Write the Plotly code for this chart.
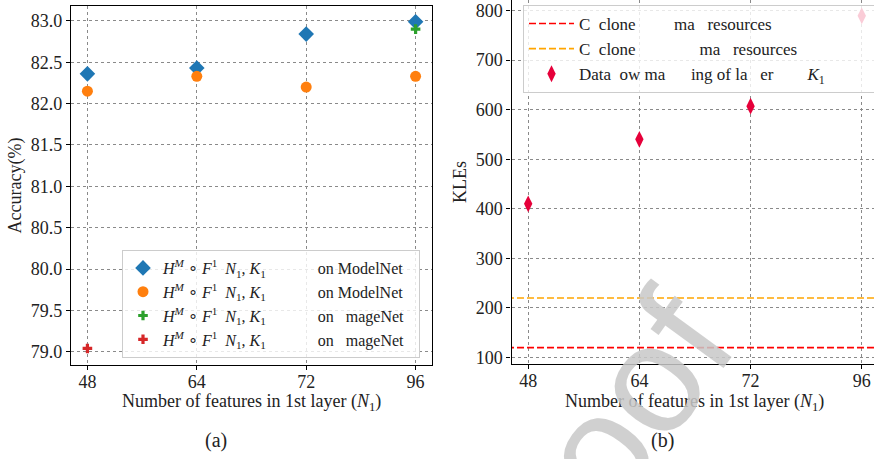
import plotly.graph_objects as go

# ---------------- data ----------------
n_features = ["48", "64", "72", "96"]

acc_blue = [82.36, 82.43, 82.84, 82.99]      # diamonds, ModelNet
acc_orange = [82.15, 82.33, 82.20, 82.33]    # circles, ModelNet
acc_green_x = ["96"]
acc_green = [82.90]                          # plus, ImageNet
acc_red_x = ["48"]
acc_red = [79.04]                            # plus, ImageNet

kles_points = [410, 540, 607, 789]
kles_limit_low = 120
kles_limit_high = 220

PAD = '<span style="color:rgba(0,0,0,0)">{}</span>'
HF = "<i>H</i><sup><i>M</i></sup> ∘ <i>F</i><sup>1</sup>  <i>N</i><sub>1</sub>, <i>K</i><sub>1</sub>"
legend_left = [
    HF + "\u00a0" * 13 + "on ModelNet" + PAD.format("ii"),
    HF + "\u00a0" * 13 + "on ModelNet" + PAD.format("ii"),
    HF + "\u00a0" * 13 + "on\u00a0\u00a0 mageNet" + PAD.format("ii"),
    HF + "\u00a0" * 13 + "on\u00a0\u00a0 mageNet" + PAD.format("ii"),
]
legend_right = [
    "C\u00a0 clone" + "\u00a0" * 9 + "ma\u00a0\u00a0 resources",
    "C\u00a0 clone" + "\u00a0" * 15 + "ma\u00a0\u00a0 resources",
    "Data\u00a0 ow ma\u00a0\u00a0\u00a0\u00a0\u00a0 ing of la\u00a0\u00a0 er" + "\u00a0" * 8 + "<i>K</i><sub>1</sub>"
    + PAD.format("mmmmmmm"),
]

FONT = "Liberation Serif"
pos = list(range(len(n_features)))
idx = {c: i for i, c in enumerate(n_features)}

fig = go.Figure()

# ---- left panel ----
fig.add_trace(go.Scatter(x=pos, y=acc_blue, mode="markers", name=legend_left[0],
                         marker=dict(symbol="diamond", size=12, color="#1f77b4"),
                         xaxis="x", yaxis="y", legend="legend"))
fig.add_trace(go.Scatter(x=pos, y=acc_orange, mode="markers", name=legend_left[1],
                         marker=dict(symbol="circle", size=11, color="#ff7f0e"),
                         xaxis="x", yaxis="y", legend="legend"))
fig.add_trace(go.Scatter(x=[idx[c] for c in acc_green_x], y=acc_green, mode="markers", name=legend_left[2],
                         marker=dict(symbol="cross", size=8, color="#2ca02c"),
                         xaxis="x", yaxis="y", legend="legend"))
fig.add_trace(go.Scatter(x=[idx[c] for c in acc_red_x], y=acc_red, mode="markers", name=legend_left[3],
                         marker=dict(symbol="cross", size=8, color="#d62728"),
                         xaxis="x", yaxis="y", legend="legend"))

# ---- right panel ----
span = [-1, len(n_features)]
fig.add_trace(go.Scatter(x=span, y=[kles_limit_low] * 2, mode="lines", name=legend_right[0],
                         line=dict(color="red", width=1.6, dash="7px,3px"),
                         xaxis="x2", yaxis="y2", legend="legend2"))
fig.add_trace(go.Scatter(x=span, y=[kles_limit_high] * 2, mode="lines", name=legend_right[1],
                         line=dict(color="orange", width=1.6, dash="7px,3px"),
                         xaxis="x2", yaxis="y2", legend="legend2"))
fig.add_trace(go.Scatter(x=pos, y=kles_points, mode="markers", name=legend_right[2],
                         marker=dict(symbol="diamond-tall", size=12, color="#e6003a"),
                         xaxis="x2", yaxis="y2", legend="legend2"))

W, H = 874, 459
axis_common = dict(showline=True, linecolor="black", linewidth=1.2,
                   ticks="outside", ticklen=4, tickcolor="black", automargin=False,
                   showgrid=True, gridcolor="#8a8a8a", griddash="dot", gridwidth=0.8,
                   zeroline=False, tickfont=dict(family=FONT, size=18, color="#222"))

xtitle = "Number of features in 1st layer (<i>N</i><sub>1</sub>)"
tfont = dict(family=FONT, size=18, color="#222")

fig.update_layout(
    width=W, height=H,
    margin=dict(l=0, r=0, t=0, b=0, autoexpand=False),
    paper_bgcolor="white", plot_bgcolor="white",
    font=dict(family=FONT, size=16, color="#222"),
    xaxis=dict(domain=[71 / W, 432 / W], range=[-0.15, 3.15], tickvals=pos, ticktext=n_features,
               anchor="y", mirror=True, ticklabelstandoff=-4, **axis_common),
    yaxis=dict(domain=[1 - 365 / H, 1 - 6 / H], range=[78.84, 83.18], dtick=0.5, tickformat=".1f",
               anchor="x", mirror=True, title=dict(text="Accuracy(%)", standoff=4, font=tfont), **axis_common),
    xaxis2=dict(domain=[511.5 / W, 1.0], range=[-0.15, 3.11], tickvals=pos, ticktext=n_features,
                anchor="y2", mirror=True, ticklabelstandoff=-4, **axis_common),
    yaxis2=dict(domain=[1 - 364 / H, 1.0], range=[87, 821], dtick=100,
                anchor="x2", mirror=False, title=dict(text="KLEs", standoff=4, font=tfont), **axis_common),
    legend=dict(x=122 / W, y=1 - 250 / H, xanchor="left", yanchor="top",
                bgcolor="rgba(255,255,255,0.8)", bordercolor="#cccccc", borderwidth=1,
                font=dict(family=FONT, size=16, color="#222"), itemwidth=30),
    legend2=dict(x=523 / W, y=1 - 5 / H, xanchor="left", yanchor="top",
                 bgcolor="rgba(255,255,255,0.8)", bordercolor="#cccccc", borderwidth=1,
                 font=dict(family=FONT, size=17, color="#222"), itemwidth=45),
    showlegend=True,
)


def label(text, x, y, size=18, **kw):
    fig.add_annotation(text=text, x=x / W, y=1 - y / H, xref="paper", yref="paper",
                       xanchor="center", yanchor="middle", showarrow=False,
                       font=kw.pop("font", dict(family=FONT, size=size, color="#222")), **kw)


# x-axis titles
label(xtitle, 251.5, 402)
label(xtitle, 694, 402)
# sub-figure captions
label("(a)", 216, 440, size=20)
label("(b)", 662, 440, size=20)
# watermark
label("Proof", 589, 463, textangle=-54,
      font=dict(family="Liberation Sans", size=155, color="rgba(200,200,200,0.85)"))

fig.write_html("out.html", config={"displayModeBar": False},
               post_script="document.body.style.margin='0';document.body.style.overflow='hidden';")
